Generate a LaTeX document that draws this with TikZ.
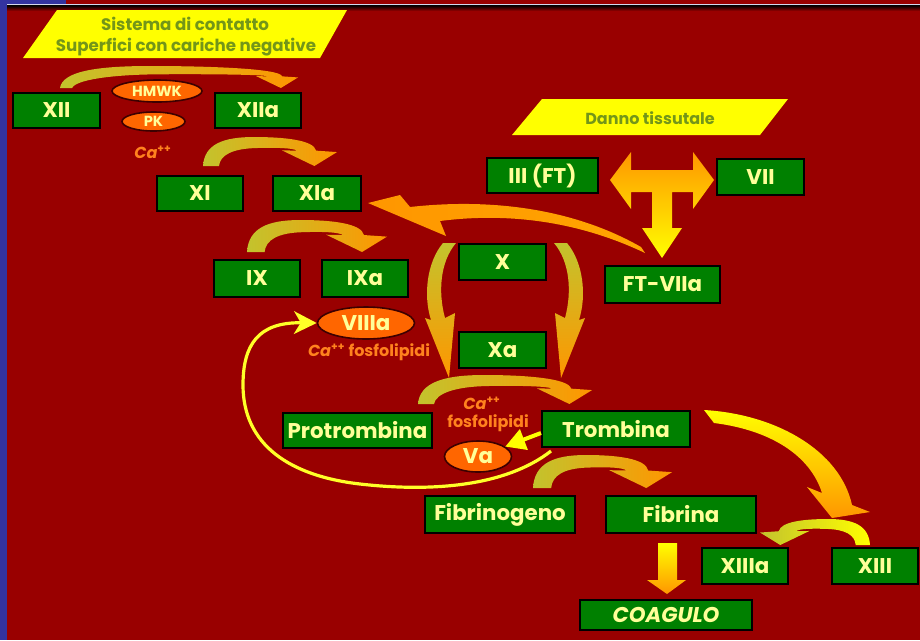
\documentclass[tikz,border=0pt]{standalone}
\usepackage{fontspec}
\setmainfont{Poppins}
\usetikzlibrary{shapes.geometric,arrows.meta}

\definecolor{bgred}{RGB}{153,0,0}
\definecolor{slideblue}{RGB}{51,51,160}
\definecolor{boxgreen}{RGB}{0,128,0}
\definecolor{boxtext}{RGB}{255,255,153}
\definecolor{paryellow}{RGB}{255,255,0}
\definecolor{partext}{RGB}{115,150,25}
\definecolor{ovalorange}{RGB}{255,102,0}
\definecolor{catext}{RGB}{255,130,30}
\definecolor{arrolive}{RGB}{195,195,45}
\definecolor{arrorange}{RGB}{255,150,0}
\definecolor{arrmid}{RGB}{245,185,30}
\definecolor{arryellow}{RGB}{255,255,0}
\definecolor{fbyellow}{RGB}{255,255,40}

% curved "down" block arrow: #1,#2 top-left corner, #3 width, #4 height, #5 options
\newcommand\curvedarrow[5]{%
  \pgfmathsetmacro\aW{#3}\pgfmathsetmacro\aH{#4}%
  \begin{scope}[shift={(#1,#2)}]
  \shade[#5] (0,\aH) .. controls ({0.01*\aW},{0.25*\aH}) and ({0.15*\aW},0) .. ({0.38*\aW},0)
     .. controls ({0.6*\aW},0) and ({\aW-0.8*\aH},{0.1*\aH}) .. ({\aW-0.72*\aH},{0.47*\aH})
     -- (\aW,{0.52*\aH}) -- ({\aW-0.78*\aH},\aH) -- ({\aW-1.9*\aH},{0.46*\aH})
     -- ({\aW-1.38*\aH},{0.47*\aH})
     .. controls ({\aW-1.5*\aH},{0.38*\aH}) and ({0.55*\aW},{0.36*\aH}) .. ({0.4*\aW},{0.38*\aH})
     .. controls ({0.22*\aW},{0.4*\aH}) and ({0.5*\aH+0.02*\aW},{0.62*\aH}) .. ({0.55*\aH},\aH) -- cycle;
  \end{scope}}

\tikzset{
  bw/.style={minimum width=#1*0.75pt},
  bh/.style={minimum height=#1*0.75pt},
  box/.style={draw=black, line width=1.5pt, fill=boxgreen, text=boxtext, inner sep=0pt,
    font=\fontsize{16}{18}\selectfont\bfseries},
  oval/.style={ellipse, draw=black!60!bgred, line width=1.2pt, fill=ovalorange, text=boxtext,
    inner sep=0pt, font=\fontsize{16}{18}\selectfont\bfseries},
  partxt/.style={text=partext, inner sep=0pt, font=\fontsize{12.5}{14}\selectfont\bfseries},
  catxt/.style={text=catext, inner sep=0pt, font=\fontsize{12}{14}\selectfont\bfseries},
  bentshade/.style={left color=arrolive, middle color=arrmid, right color=arrorange},
  fbline/.style={draw=fbyellow, line width=2.4pt, -{Stealth[length=17pt,width=17pt,inset=5pt]}},
}

\begin{document}
\begin{tikzpicture}[x=0.75pt,y=-0.75pt]
\useasboundingbox (0,0) rectangle (920,640);
% slide background and frame
\fill[bgred] (0,0) rectangle (920,640);
\fill[slideblue] (0,0) rectangle (7,640);
\fill[slideblue] (0,0) rectangle (66,4);
\fill[white!80!slideblue] (7,4) rectangle (920,5.5);
\shade[top color=black, bottom color=bgred] (7,5.5) rectangle (920,11);

% yellow banners
\fill[paryellow] (57,10) -- (347,10) -- (320,58) -- (23,58) -- cycle;
\fill[paryellow] (542,99) -- (788,99) -- (760,135) -- (512,135) -- cycle;
\node[partxt] (sist) at (185,24) {Sistema di contatto};
\node[partxt] (superf) at (186,47) {Superfici con cariche negative};
\node[partxt, font=\fontsize{12}{14}\selectfont\bfseries] (danno) at (650,118) {Danno tissutale};

% curved block arrows of the cascade
\curvedarrow{60}{66}{238}{22}{bentshade}
\curvedarrow{203}{137}{134}{29}{bentshade}
\curvedarrow{247}{220}{140}{32}{bentshade}
\curvedarrow{418}{375}{174}{29}{bentshade}
\curvedarrow{533}{455}{139}{33}{bentshade}
\curvedarrow{870}{519}{110}{26}{xscale=-1, left color=arrolive, right color=arryellow}

% X -> Xa side arrows
\shade[top color=arrolive, middle color=arryellow!90!arrorange, bottom color=arrorange]
  (443,243) .. controls (427,262) and (423,295) .. (431,320) -- (425,318) -- (449,378)
  -- (455,313) -- (445,318) .. controls (438,292) and (440,262) .. (456,243) -- cycle;
\begin{scope}[shift={(1010,0)}, xscale=-1]
\shade[top color=arrolive, middle color=arryellow!90!arrorange, bottom color=arrorange]
  (443,243) .. controls (427,262) and (423,295) .. (431,320) -- (425,318) -- (449,378)
  -- (455,313) -- (445,318) .. controls (438,292) and (440,262) .. (456,243) -- cycle;
\end{scope}

% FT-VIIa -> XIa
\shade[left color=arrorange, right color=arrorange!85!arryellow]
  (641,247) .. controls (580,212) and (500,197) .. (410,207) -- (400,195) -- (368,203)
  -- (446,236) -- (440,221) .. controls (510,212) and (580,222) .. (645,253) -- cycle;

% Trombina -> XIII
\shade[top color=arryellow, bottom color=arrorange]
  (704,410) .. controls (775,414) and (840,450) .. (852,505) -- (870,512) -- (832,518)
  -- (807,487) -- (822,493) .. controls (810,455) and (770,430) .. (714,423) -- cycle;

% tissue factor T-arrow
\shade[top color=arrorange, middle color=arrorange!60!arryellow, bottom color=arryellow]
  (610,180) -- (631,152) -- (631,170) -- (693,170) -- (693,152) -- (714,180) -- (693,209)
  -- (693,192) -- (672,192) -- (672,228) -- (682,228) -- (662,258) -- (642,228)
  -- (652,228) -- (652,192) -- (631,192) -- (631,209) -- cycle;

% Fibrina -> COAGULO
\shade[top color=arryellow, bottom color=arrorange]
  (658,543) -- (677,543) -- (677,580) -- (686,580) -- (667,594) -- (647,580) -- (658,580) -- cycle;

% factor boxes
\node[box, bw=87, bh=35] (xii) at (56.5,110.5) {XII};
\node[box, bw=86, bh=35] (xiia) at (258,110.5) {XIIa};
\node[box, bw=86, bh=35] (xi) at (200,193.5) {XI};
\node[box, bw=88, bh=35] (xia) at (317,193.5) {XIa};
\node[box, bw=111, bh=35] (iii) at (542.5,175.5) {III (FT)};
\node[box, bw=87, bh=36] (vii) at (760.5,177) {VII};
\node[box, bw=115, bh=37] (ftviia) at (662.5,284.5) {FT-VIIa};
\node[box, bw=87, bh=36] (x) at (502.5,262) {X};
\node[box, bw=87, bh=36] (xa) at (502.5,350) {Xa};
\node[box, bw=86, bh=37] (ix) at (257,278.5) {IX};
\node[box, bw=86, bh=37] (ixa) at (365,278.5) {IXa};
\node[box, bw=149, bh=35] (protr) at (357.5,430.5) {Protrombina};
\node[box, bw=148, bh=36] (tromb) at (616,429) {Trombina};
\node[box, bw=150, bh=37] (fibrinog) at (500,514.5) {Fibrinogeno};
\node[box, bw=150, bh=37] (fibrina) at (681,514.5) {Fibrina};
\node[box, bw=172, bh=30, font=\fontsize{16}{18}\selectfont\bfseries\itshape] (coag) at (666,615) {COAGULO};
\node[box, bw=86, bh=36] (xiiia) at (745,566) {XIIIa};
\node[box, bw=86, bh=36] (xiii) at (875,566) {XIII};

% cofactors
\node[oval, bw=90, bh=22, font=\fontsize{11}{13}\selectfont\bfseries] (hmwk) at (157,91) {HMWK};
\node[oval, bw=63, bh=19, font=\fontsize{11}{13}\selectfont\bfseries] (pk) at (153.5,121.5) {PK};
\node[oval, bw=97, bh=32] (viiia) at (366,323) {VIIIa};
\node[oval, bw=67, bh=31] (va) at (478,456.5) {Va};

\node[catxt] (ca1) at (153,152) {\textit{Ca}\textsuperscript{++}};
\node[catxt] (ca2) at (369,352) {\textit{Ca}\textsuperscript{++} fosfolipidi};
\node[catxt] (ca3) at (482,403) {\textit{Ca}\textsuperscript{++}};
\node[catxt] (fosf3) at (488,423) {fosfolipidi};

% thrombin feedback on VIIIa and Va
\coordinate (fbstart) at (551,451);
\draw[fbline] (fbstart) .. controls (505,487) and (430,492) .. (360,484)
  .. controls (290,476) and (243,445) .. (243,385)
  .. controls (243,345) and (258,322) .. (viiia.west);
\draw[draw=arryellow, line width=3pt, -{Triangle[length=15pt,width=16pt]}]
  ([yshift=-3pt]tromb.west) -- (va.20);
\end{tikzpicture}
\end{document}
